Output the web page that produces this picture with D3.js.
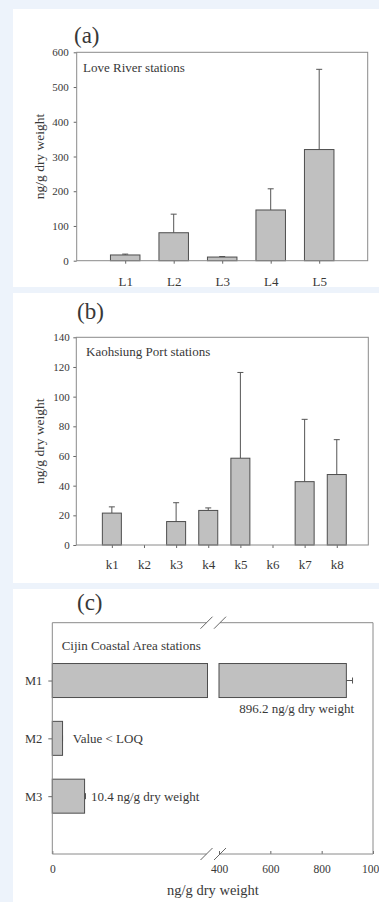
<!DOCTYPE html>
<html>
<head>
<meta charset="utf-8">
<style>
  body { margin: 0; background: #edf3fb; }
  svg { display: block; }
  svg text { font-family: "Liberation Serif", "Times New Roman", "DejaVu Serif", serif !important; fill: #383838; }
  .frame { fill: none; stroke: #8a8a8a; stroke-width: 1; }
  .bar { fill: #c0c0c0; stroke: #4d4d4d; stroke-width: 1; }
  .err { stroke: #555; stroke-width: 1; fill: none; }
  .axis .domain { display: none; }
  .axis .tick line { stroke: #666; }
</style>
</head>
<body>
<svg width="379" height="902"></svg>
<script src="https://d3js.org/d3.v7.min.js"></script>
<script>
// (a) Love River
let loveStations = ["L1", "L2", "L3", "L4", "L5"]
let loveMean = [16.5, 80.5, 10.5, 146, 320]
let loveSd = [2.5, 53.5, 1.5, 61, 231]
let loveTicks = [0, 100, 200, 300, 400, 500, 600]

// (b) Kaohsiung Port
let portStations = ["k1", "k2", "k3", "k4", "k5", "k6", "k7", "k8"]
let portMean = [21.5, 0, 15.8, 23.3, 58.5, 0, 42.7, 47.5]
let portSd = [4.2, 0, 12.7, 1.7, 57.8, 0, 42, 23.5]
let portTicks = [0, 20, 40, 60, 80, 100, 120, 140]

// (c) Cijin coast, broken x axis
let coastStations = ["M1", "M2", "M3"]
let coastMean = [896.2, 3.3, 10.4]
let coastSd = [24, 0, 0.3]
let coastNotes = ["896.2 ng/g dry weight", "Value < LOQ", "10.4 ng/g dry weight"]
let coastTicksLow = [0]
let coastTicksHigh = [400, 600, 800, 1000]

let svg = d3.select("svg")

// white panels
let panels = [
  {x: 13, y: 9, w: 366, h: 278},
  {x: 13, y: 293, w: 366, h: 290},
  {x: 13, y: 589, w: 366, h: 313}
]
svg.selectAll(".panel").data(panels).join("rect")
  .attr("class", "panel")
  .attr("x", d => d.x).attr("y", d => d.y)
  .attr("width", d => d.w).attr("height", d => d.h)
  .attr("fill", "#fff")

function barPanel(o) {
  let g = svg.append("g")
  let data = o.cats.map((c, i) => ({cat: c, mean: o.mean[i], sd: o.sd[i]}))

  let x = d3.scalePoint()
    .domain(o.cats)
    .range([o.left, o.right])
    .padding(o.pad)
    .align(o.align)

  let y = d3.scaleLinear()
    .domain([0, o.yMax])
    .range([o.bottom, o.top])

  g.append("g")
    .attr("class", "axis")
    .attr("transform", `translate(${o.left},0)`)
    .call(d3.axisLeft(y).tickValues(o.ticks).tickSize(3).tickPadding(o.yPad))
    .selectAll("text").style("font-size", "11px")

  g.append("g")
    .attr("class", "axis")
    .attr("transform", `translate(0,${o.bottom})`)
    .call(d3.axisBottom(x).tickSize(3).tickPadding(o.xPad))
    .selectAll("text").style("font-size", "13px")

  let shown = data.filter(d => d.mean > 0)

  g.selectAll(".errline").data(shown).join("line")
    .attr("class", "err")
    .attr("x1", d => x(d.cat)).attr("x2", d => x(d.cat))
    .attr("y1", d => y(d.mean)).attr("y2", d => y(d.mean + d.sd))
  g.selectAll(".errcap").data(shown).join("line")
    .attr("class", "err")
    .attr("x1", d => x(d.cat) - 3).attr("x2", d => x(d.cat) + 3)
    .attr("y1", d => y(d.mean + d.sd)).attr("y2", d => y(d.mean + d.sd))

  g.selectAll(".bar").data(shown).join("rect")
    .attr("class", "bar")
    .attr("x", d => x(d.cat) - o.bw / 2)
    .attr("width", o.bw)
    .attr("y", d => y(d.mean))
    .attr("height", d => y(0) - y(d.mean))

  g.append("rect")
    .attr("class", "frame")
    .attr("x", o.left).attr("y", o.top)
    .attr("width", o.right - o.left).attr("height", o.bottom - o.top)

  g.append("text")
    .attr("x", o.letterX).attr("y", o.letterY)
    .style("font-size", "23px")
    .text(o.letter)

  g.append("text")
    .attr("x", o.titleX).attr("y", o.titleY)
    .style("font-size", "13px")
    .text(o.title)

  g.append("text")
    .attr("transform", `translate(39,${(o.top + o.bottom) / 2}) rotate(-90)`)
    .attr("text-anchor", "middle")
    .attr("dy", "0.35em")
    .style("font-size", "13.5px")
    .text("ng/g dry weight")
}

barPanel({
  cats: loveStations, mean: loveMean, sd: loveSd, ticks: loveTicks, yMax: 600,
  left: 76.7, right: 367.7, top: 52.3, bottom: 260.7, pad: 1, align: 0.5, bw: 29.5,
  yPad: 5, xPad: 13,
  letter: "(a)", letterX: 74, letterY: 43,
  title: "Love River stations", titleX: 83, titleY: 72
})

barPanel({
  cats: portStations, mean: portMean, sd: portSd, ticks: portTicks, yMax: 140,
  left: 76.3, right: 368.3, top: 337.3, bottom: 545, pad: 1.044, align: 0.53, bw: 19,
  yPad: 3.5, xPad: 12,
  letter: "(b)", letterX: 77, letterY: 319,
  title: "Kaohsiung Port stations", titleX: 86, titleY: 355.5
})

// panel (c): horizontal bars on a broken axis
let cLeft = 52.3, cRight = 373, cTop = 622.7, cBottom = 854
let breakA = 207.5, breakB = 219

let xLow = d3.scaleLinear().domain([0, 50]).range([cLeft, breakA])
let xHigh = d3.scaleLinear().domain([400, 1000]).range([breakB, cRight])
let yc = d3.scalePoint().domain(coastStations).range([cTop, cBottom]).padding(1)
let bh = 34

let gc = svg.append("g")
let cdata = coastStations.map((c, i) => ({cat: c, mean: coastMean[i], sd: coastSd[i], note: coastNotes[i]}))

gc.append("g")
  .attr("class", "axis")
  .attr("transform", `translate(${cLeft},0)`)
  .call(d3.axisLeft(yc).tickSize(4).tickPadding(6))
  .selectAll("text").style("font-size", "12.5px")

gc.append("g")
  .attr("class", "axis")
  .attr("transform", `translate(0,${cBottom})`)
  .call(d3.axisBottom(xLow).tickValues(coastTicksLow).tickSize(-3).tickPadding(11))
  .selectAll("text").style("font-size", "11.5px")

gc.append("g")
  .attr("class", "axis")
  .attr("transform", `translate(0,${cBottom})`)
  .call(d3.axisBottom(xHigh).tickValues(coastTicksHigh).tickFormat(d3.format("d")).tickSize(-3).tickPadding(11))
  .selectAll("text").style("font-size", "11.5px")

// error bars
cdata.forEach(d => {
  let sx = d.mean > 50 ? xHigh : xLow
  let x0 = sx(d.mean), x1 = sx(d.mean + d.sd), yy = yc(d.cat)
  gc.append("line").attr("class", "err")
    .attr("x1", x0).attr("x2", x1).attr("y1", yy).attr("y2", yy)
  gc.append("line").attr("class", "err")
    .attr("x1", x1).attr("x2", x1).attr("y1", yy - 3).attr("y2", yy + 3)
})

// bars: pieces split at the break
cdata.forEach(d => {
  let yy = yc(d.cat) - bh / 2
  gc.append("rect").attr("class", "bar")
    .attr("x", xLow(0)).attr("y", yy)
    .attr("width", xLow(Math.min(d.mean, 50)) - xLow(0)).attr("height", bh)
  if (d.mean > 400) {
    gc.append("rect").attr("class", "bar")
      .attr("x", xHigh(400)).attr("y", yy)
      .attr("width", xHigh(d.mean) - xHigh(400)).attr("height", bh)
  }
})

// frame with gaps at the break
let gapL = breakA - 1, gapR = breakB + 1
let frameSegs = [
  [cLeft, cTop, cLeft, cBottom],
  [cRight, cTop, cRight, cBottom],
  [cLeft, cTop, gapL, cTop],
  [gapR, cTop, cRight, cTop],
  [cLeft, cBottom, gapL, cBottom],
  [gapR, cBottom, cRight, cBottom]
]
gc.selectAll(".fseg").data(frameSegs).join("line")
  .attr("stroke", "#8a8a8a")
  .attr("x1", d => d[0]).attr("y1", d => d[1])
  .attr("x2", d => d[2]).attr("y2", d => d[3])

// break marks
let slashes = []
;[cTop, cBottom].forEach(yy => {
  ;[gapL, gapR].forEach(xx => slashes.push([xx - 6, yy + 6, xx + 6, yy - 6]))
})
gc.selectAll(".slash").data(slashes).join("line")
  .attr("stroke", "#666")
  .attr("x1", d => d[0]).attr("y1", d => d[1])
  .attr("x2", d => d[2]).attr("y2", d => d[3])

gc.append("text")
  .attr("x", 77).attr("y", 610)
  .style("font-size", "23px")
  .text("(c)")

gc.append("text")
  .attr("x", 61.7).attr("y", 650)
  .style("font-size", "13px")
  .text("Cijin Coastal Area stations")

// value notes
gc.append("text")
  .attr("x", 354).attr("y", yc("M1") + 32)
  .attr("text-anchor", "end")
  .style("font-size", "13px")
  .text(cdata[0].note)
gc.append("text")
  .attr("x", 72.7).attr("y", yc("M2") + 5)
  .style("font-size", "13px")
  .text(cdata[1].note)
gc.append("text")
  .attr("x", 91).attr("y", yc("M3") + 5)
  .style("font-size", "13px")
  .text(cdata[2].note)

gc.append("text")
  .attr("x", 213).attr("y", 895)
  .attr("text-anchor", "middle")
  .style("font-size", "14.5px")
  .text("ng/g dry weight")
</script>
</body>
</html>
